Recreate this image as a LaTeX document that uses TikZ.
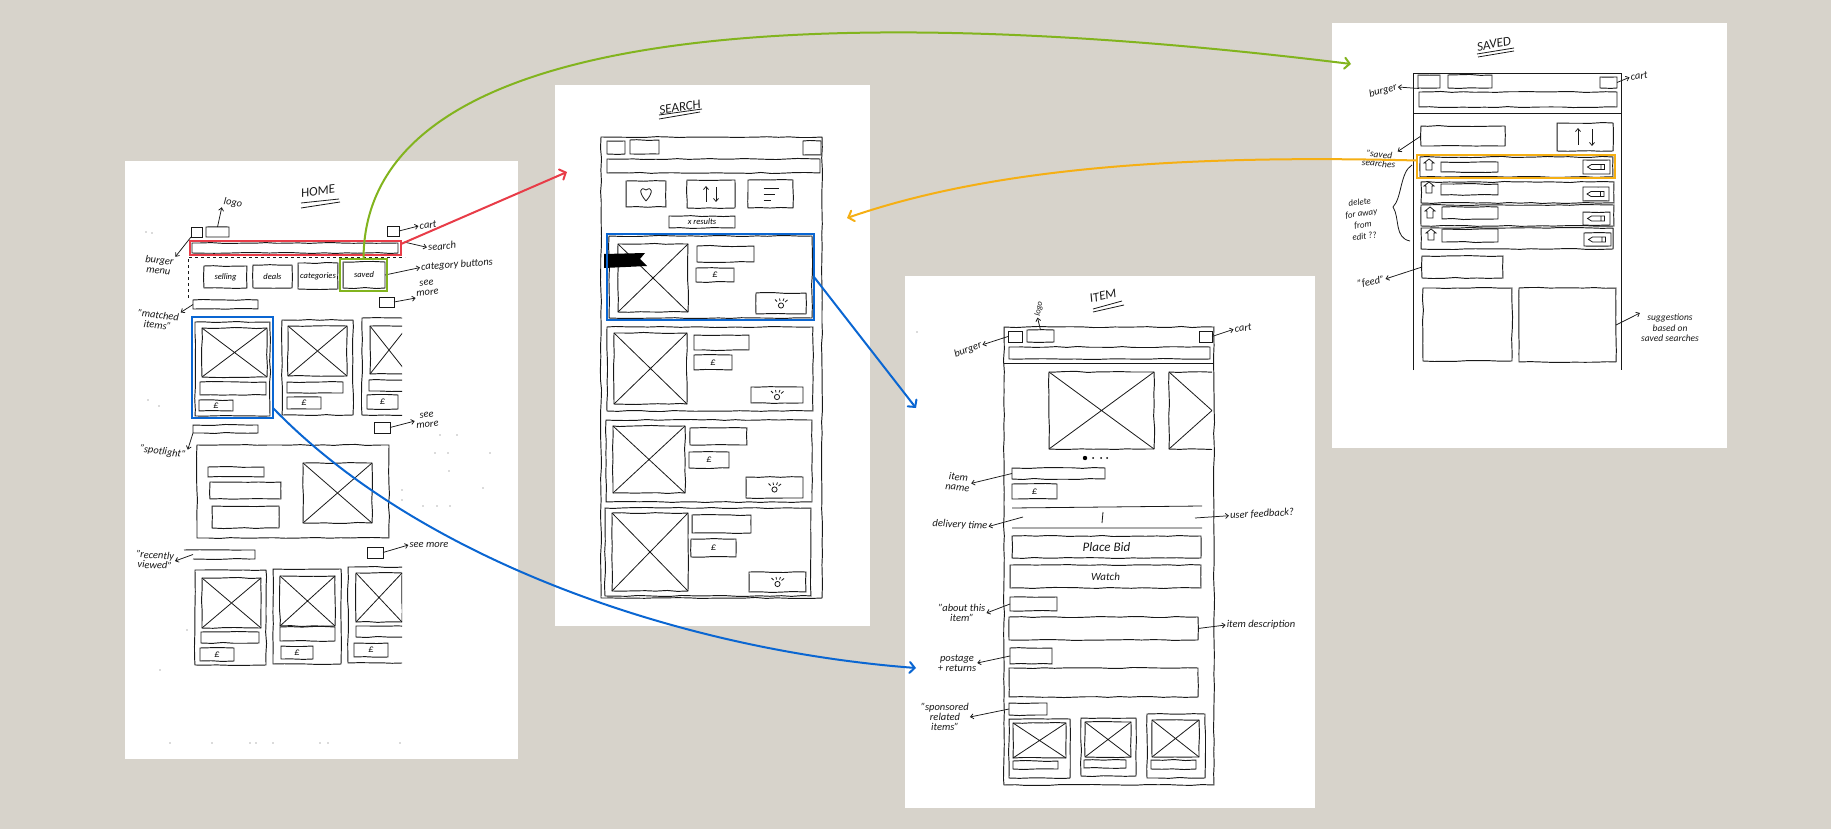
\documentclass[tikz,border=0pt]{standalone}
\usepackage{fontspec}
\setmainfont{Carlito}
\usetikzlibrary{arrows.meta,decorations.pathmorphing}
\definecolor{colorpaper}{RGB}{215,211,203}
\definecolor{colorred}{RGB}{232,60,72}
\definecolor{colorgreen}{RGB}{130,180,30}
\definecolor{colorblue}{RGB}{10,102,210}
\definecolor{colororange}{RGB}{245,175,20}
\tikzset{
	wire/.style={rectangle, draw=black!90, line width=0.95pt, inner sep=0pt, outer sep=0pt, decorate, decoration={random steps, segment length=11pt, amplitude=0.55pt}},
	wirethin/.style={draw=black!90, line width=0.8pt},
	hand/.style={font=\itshape\fontsize{10.5}{10}\selectfont, inner sep=1pt, align=center, text=black!90},
	handbig/.style={font=\itshape\fontsize{13}{13}\selectfont, inner sep=0pt, text=black!90},
	boxsmall/.style={font=\itshape\fontsize{8.5}{9}\selectfont},
	notearrow/.style={draw=black!90, line width=0.75pt, -{Straight Barb[length=3pt,width=5pt]}},
	hilite/.style={rectangle, line width=2pt, inner sep=0pt, outer sep=0pt},
	flow/.style={line width=2pt, -{Straight Barb[length=5pt,width=11pt,line cap=round]}}
}
% boxes are given by their corners in picture pixels
\newcommand{\wbox}[7][]{\node[wire, minimum width={#5-#3}, minimum height={#6-#4}, #1] at ({(#3+#5)/2}, {(#4+#6)/2}) (#2) {#7};}
\newcommand{\wimg}[6][]{\wbox[#1]{#2}{#3}{#4}{#5}{#6}{}
	\draw[wirethin] (#2.north west) -- (#2.south east) (#2.north east) -- (#2.south west);}
\newcommand{\hlbox}[6]{\node[hilite, draw=#2, minimum width={#5-#3}, minimum height={#6-#4}] at ({(#3+#5)/2}, {(#4+#6)/2}) (#1) {};}
\newcommand{\eyeicon}[1]{\draw[wirethin, shift={(#1.center)}] (0,2) circle[radius=2.6] (-4,-2) -- (-6,-4) (-1,-2.5) -- (-1.5,-5) (2,-2.5) -- (3,-5) (4,-1.5) -- (6.5,-3.5);}
\newcommand{\binicon}[2]{\draw[wirethin, shift={(#1,#2)}] (0,-6) -- (5,-2) -- (3,-2) -- (3,5) -- (-3,5) -- (-3,-2) -- (-5,-2) -- cycle;}
\newcommand{\penicon}[1]{\draw[wirethin, shift={(#1.center)}] (-9,0) -- (-5,-2.5) -- (8,-2.5) -- (8,2.5) -- (-5,2.5) -- cycle (4.5,-2.5) -- (4.5,2.5);}
\begin{document}
\begin{tikzpicture}[x=1pt, y=-1pt]
	\pgfmathsetseed{11}
	\useasboundingbox (0,0) rectangle (1831,829);
	\fill[colorpaper] (0,0) rectangle (1831,829);
	\fill[white] (125,161) rectangle (518,759);
	\fill[white] (555,85) rectangle (870,626);
	\fill[white] (905,276) rectangle (1315,808);
	\fill[white] (1332,23) rectangle (1727,448);
	
	% home sheet
	\node[handbig, rotate=7] at (318,191) (hometitle) {HOME};
	\draw[wirethin] (301,203) -- (339,199) (301,208) -- (340,202);
	\draw[wirethin, dashed] (188,298) -- (188,257) -- (405,257);
	\wbox{homeburger}{191}{227}{202}{237}{}
	\wbox{homelogo}{206}{227}{229}{237}{}
	\wbox{homecart}{387}{226}{399}{236}{}
	\wbox{homesearch}{192}{243}{398}{253}{}
	\wbox[boxsmall]{homeselling}{204}{266}{247}{288}{selling}
	\wbox[boxsmall]{homedeals}{253}{265}{292}{288}{deals}
	\wbox[boxsmall]{homecategories}{298}{263}{338}{289}{categories}
	\wbox[boxsmall]{homesaved}{343}{262}{385}{288}{saved}
	\wbox{homemore}{379}{297}{394}{307}{}
	\wbox{hometitleone}{193}{300}{258}{309}{}
	
	\wbox{cardone}{195}{322}{270}{416}{}
	\wimg{cardoneimg}{202}{328}{267}{377}
	\wbox{cardonename}{200}{382}{266}{395}{}
	\wbox[hand]{cardoneprice}{199}{400}{233}{411}{£}
	\wbox{cardtwo}{282}{320}{353}{415}{}
	\wimg{cardtwoimg}{288}{326}{347}{376}
	\wbox{cardtwoname}{287}{382}{343}{393}{}
	\wbox[hand]{cardtwoprice}{287}{397}{321}{409}{£}
	\begin{scope}
		\clip (355,300) rectangle (402,430);
		\wbox{cardthree}{362}{318}{430}{415}{}
		\wimg{cardthreeimg}{370}{326}{408}{374}
		\wbox{cardthreename}{369}{380}{430}{391}{}
		\wbox[hand]{cardthreeprice}{367}{395}{398}{409}{£}
	\end{scope}
	
	\wbox{hometitletwo}{193}{425}{258}{433}{}
	\wbox{homemoretwo}{374}{422}{390}{433}{}
	\wbox{spotlight}{197}{445}{389}{538}{}
	\wbox{spotone}{208}{467}{264}{477}{}
	\wbox{spottwo}{210}{482}{281}{499}{}
	\wbox{spotthree}{212}{506}{279}{528}{}
	\wimg{spotimg}{303}{463}{372}{523}
	
	\wbox{hometitlethree}{193}{550}{255}{559}{}
	\wbox{homemorethree}{367}{547}{383}{558}{}
	\wbox{cardfour}{195}{570}{266}{665}{}
	\wimg{cardfourimg}{202}{578}{261}{628}
	\wbox{cardfourname}{201}{632}{259}{643}{}
	\wbox[hand]{cardfourprice}{200}{648}{234}{661}{£}
	\wbox{cardfive}{273}{569}{341}{664}{}
	\wimg{cardfiveimg}{280}{576}{335}{626}
	\wbox{cardfivename}{280}{627}{335}{641}{}
	\wbox[hand]{cardfiveprice}{281}{646}{313}{659}{£}
	\begin{scope}
		\clip (340,555) rectangle (402,680);
		\wbox{cardsix}{348}{567}{430}{663}{}
		\wimg{cardsiximg}{356}{573}{402}{622}
		\wbox{cardsixname}{356}{626}{430}{637}{}
		\wbox[hand]{cardsixprice}{354}{643}{388}{657}{£}
	\end{scope}
	
	\node[hand, rotate=-8] at (233,203) (homelogolabel) {logo};
	\node[hand, rotate=6] at (428,225) (homecartlabel) {cart};
	\node[hand, rotate=-6] at (159,265) (homeburgerlabel) {burger\\menu};
	\node[hand, rotate=5] at (442,246) (homesearchlabel) {search};
	\node[hand, rotate=4] at (457,265) (homecatlabel) {category buttons};
	\node[hand, rotate=6] at (427,288) (homemorelabel) {see\\more};
	\node[hand, rotate=-6] at (158,320) (homematchedlabel) {"matched\\items"};
	\node[hand, rotate=5] at (427,420) (homemoretwolabel) {see\\more};
	\node[hand, rotate=-8] at (163,452) (homespotlabel) {"spotlight"};
	\node[hand, rotate=-3] at (155,560) (homerecentlabel) {"recently\\viewed"};
	\node[hand] at (429,545) (homemorethreelabel) {see more};
	
	\draw[notearrow] (homelogo.north) -- (homelogolabel.south west);
	\draw[notearrow] (homecart.east) -- (homecartlabel.west);
	\draw[notearrow] (homeburger.south west) -- (homeburgerlabel.north east);
	\draw[notearrow] (homesearch.east) ++(6,-6) -- (homesearchlabel.west);
	\draw[notearrow] (homesaved.east) -- (homecatlabel.west);
	\draw[notearrow] (homemore.east) -- (homemorelabel.south west);
	\draw[notearrow] (hometitleone.west) -- (homematchedlabel.north east);
	\draw[notearrow] (homemoretwo.east) -- (homemoretwolabel.west);
	\draw[notearrow] (hometitletwo.south west) -- (homespotlabel.north east);
	\draw[notearrow] (hometitlethree.west) -- (homerecentlabel.east);
	\draw[notearrow] (homemorethree.east) -- (homemorethreelabel.west);
	
	\foreach \px/\py in {170/743,212/743,250/743,256/743,273/743,320/743,328/743,400/743,440/435,457/435,435/453,448/453,490/453,449/471,402/490,402/500,423/506,437/506,450/506,483/488,148/400,159/406,187/630,160/670,146/232,152/233}
		\fill[black!60] (\px,\py) circle (0.6);
	
	% search sheet
	\node[handbig, rotate=9] at (680,107) (searchtitle) {SEARCH};
	\draw[wirethin] (659,115) -- (702,109) (659,119) -- (700,112);
	\wbox{searchframe}{601}{137}{822}{598}{}
	\wbox{searchburger}{607}{141}{625}{154}{}
	\wbox{searchlogo}{630}{140}{659}{154}{}
	\wbox{searchcart}{803}{141}{821}{155}{}
	\wbox{searchbar}{607}{159}{820}{173}{}
	\wbox{searchheart}{626}{181}{666}{207}{}
	\wbox{searchsort}{687}{180}{735}{208}{}
	\wbox{searchfilter}{748}{180}{793}{208}{}
	\draw[wirethin, shift={(searchheart.center)}] (0,7) .. controls (-8,-2) and (-6,-8) .. (0,-4) .. controls (6,-8) and (8,-2) .. (0,7);
	\draw[notearrow, shift={(searchsort.center)}] (-5,8) -- (-5,-8);
	\draw[notearrow, shift={(searchsort.center)}] (5,-7) -- (5,8);
	\draw[wirethin, shift={(searchfilter.center)}] (-7,-6) -- (8,-6) (-7,0) -- (4,0) (-7,6) -- (0,6);
	\wbox[boxsmall]{searchcount}{669}{216}{735}{228}{x results}
	
	\wbox{resultone}{609}{236}{812}{318}{}
	\wimg{resultoneimg}{618}{244}{688}{312}
	\wbox{resultonename}{697}{246}{754}{262}{}
	\wbox[hand]{resultoneprice}{696}{268}{734}{282}{£}
	\wbox{resultonewatch}{756}{293}{806}{314}{}
	\eyeicon{resultonewatch}
	\fill[black] (604,254) -- (645,253) -- (640,259) -- (647,266) -- (604,268) -- cycle;
	\wbox{resulttwo}{607}{327}{813}{411}{}
	\wimg{resulttwoimg}{614}{333}{687}{404}
	\wbox{resulttwoname}{694}{335}{749}{350}{}
	\wbox[hand]{resulttwoprice}{694}{355}{732}{370}{£}
	\wbox{resulttwowatch}{751}{387}{803}{403}{}
	\eyeicon{resulttwowatch}
	\wbox{resultthree}{606}{420}{812}{502}{}
	\wimg{resultthreeimg}{613}{426}{685}{493}
	\wbox{resultthreename}{690}{428}{747}{445}{}
	\wbox[hand]{resultthreeprice}{689}{452}{729}{468}{£}
	\wbox{resultthreewatch}{746}{477}{803}{498}{}
	\eyeicon{resultthreewatch}
	\wbox{resultfour}{605}{508}{811}{596}{}
	\wimg{resultfourimg}{612}{513}{688}{591}
	\wbox{resultfourname}{692}{515}{751}{533}{}
	\wbox[hand]{resultfourprice}{691}{539}{736}{557}{£}
	\wbox{resultfourwatch}{749}{572}{806}{592}{}
	\eyeicon{resultfourwatch}
	
	% item sheet
	\fill[black!60] (917,332) circle (0.6);
	\node[handbig, rotate=12] at (1103,296) (itemtitle) {ITEM};
	\draw[wirethin] (1093,309) -- (1122,301) (1093,312) -- (1124,305);
	\wbox{itemframe}{1004}{327}{1214}{785}{}
	\wbox{itemburger}{1008}{331}{1022}{342}{}
	\wbox{itemlogo}{1027}{330}{1054}{342}{}
	\wbox{itemcart}{1199}{331}{1212}{342}{}
	\wbox{itembar}{1009}{347}{1210}{359}{}
	\draw[wirethin] (1004,363) -- (1214,363);
	\wimg{itemimg}{1049}{372}{1154}{449}
	\begin{scope}
		\clip (1160,360) rectangle (1212,460);
		\wimg{itemimgnext}{1169}{372}{1255}{449}
	\end{scope}
	\fill (1085,458) circle (2.2);
	\fill (1093,458) circle (1) (1101,458) circle (1) (1107,458) circle (1);
	\wbox{itemname}{1012}{468}{1105}{479}{}
	\wbox[hand]{itemprice}{1012}{484}{1057}{499}{£}
	\draw[wirethin] (1012,508) -- (1202,506) (1012,528) -- (1202,528) (1103,512) -- (1102,523);
	\coordinate (itemdeliv) at (1023,517);
	\coordinate (itemuser) at (1195,518);
	\wbox[hand, font=\itshape\fontsize{13}{13}\selectfont]{itembid}{1012}{536}{1201}{558}{Place Bid}
	\wbox[hand, font=\itshape\fontsize{11}{11}\selectfont]{itemwatch}{1010}{565}{1201}{588}{Watch}
	\wbox{itemabout}{1010}{597}{1057}{611}{}
	\wbox{itemdesc}{1009}{617}{1198}{640}{}
	\wbox{itempost}{1010}{648}{1052}{664}{}
	\wbox{itempostbody}{1009}{668}{1198}{697}{}
	\wbox{itemrelated}{1009}{703}{1047}{715}{}
	\wbox{itemcardone}{1009}{719}{1070}{778}{}
	\wimg{itemcardoneimg}{1013}{723}{1066}{758}
	\wbox{itemcardonename}{1013}{761}{1058}{769}{}
	\wbox{itemcardtwo}{1081}{718}{1136}{776}{}
	\wimg{itemcardtwoimg}{1085}{722}{1131}{757}
	\wbox{itemcardtwoname}{1084}{760}{1126}{768}{}
	\wbox{itemcardthree}{1147}{714}{1205}{778}{}
	\wimg{itemcardthreeimg}{1152}{720}{1199}{757}
	\wbox{itemcardthreename}{1151}{760}{1196}{769}{}
	
	\node[hand, rotate=80] at (1039,309) (itemlogolabel) {\fontsize{8.5}{8}\selectfont logo};
	\node[hand, rotate=20] at (968,350) (itemburgerlabel) {burger};
	\node[hand, rotate=8] at (1243,328) (itemcartlabel) {cart};
	\node[hand, rotate=-6] at (958,482) (itemnamelabel) {item\\name};
	\node[hand, rotate=-3] at (960,525) (itemdelivlabel) {delivery time};
	\node[hand, rotate=3] at (1262,514) (itemuserlabel) {user feedback?};
	\node[hand] at (962,613) (itemaboutlabel) {"about this\\item"};
	\node[hand] at (957,663) (itempostlabel) {postage\\+ returns};
	\node[hand] at (945,717) (itemrelatedlabel) {"sponsored\\related\\items"};
	\node[hand] at (1261,625) (itemdesclabel) {item description};
	
	\draw[notearrow] (itemlogo.north) -- (itemlogolabel.west);
	\draw[notearrow] (itemburger.west) -- (itemburgerlabel.east);
	\draw[notearrow] (itemcart.east) -- (itemcartlabel.west);
	\draw[notearrow] (itemname.west) -- (itemnamelabel.east);
	\draw[notearrow] (itemdeliv) -- (itemdelivlabel.east);
	\draw[notearrow] (itemuser) -- (itemuserlabel.west);
	\draw[notearrow] (itemabout.west) -- (itemaboutlabel.east);
	\draw[notearrow] (itempost.west) -- (itempostlabel.east);
	\draw[notearrow] (itemrelated.west) -- (itemrelatedlabel.east);
	\draw[notearrow] (itemdesc.east) -- (itemdesclabel.west);
	
	% saved sheet
	\node[handbig, rotate=10] at (1494,44) (savedtitle) {SAVED};
	\draw[wirethin] (1477,54) -- (1514,48) (1478,57) -- (1514,51);
	\draw[wirethin] (1413,370) -- (1413,73) -- (1621,73) -- (1621,370);
	\draw[wirethin] (1413,113) -- (1621,113);
	\wbox{savedburger}{1418}{75}{1440}{88}{}
	\wbox{savedlogo}{1448}{75}{1492}{88}{}
	\wbox{savedcart}{1600}{77}{1617}{88}{}
	\wbox{savedbar}{1419}{92}{1617}{107}{}
	\wbox{savedhead}{1421}{126}{1505}{146}{}
	\wbox{savedsort}{1557}{123}{1613}{151}{}
	\draw[notearrow, shift={(savedsort.center)}] (-7,8) -- (-7,-9);
	\draw[notearrow, shift={(savedsort.center)}] (7,-8) -- (7,9);
	
	\wbox{rowone}{1420}{157}{1613}{177}{}
	\binicon{1429}{165}
	\wbox{rowonename}{1441}{162}{1498}{172}{}
	\wbox{rowoneedit}{1583}{160}{1610}{174}{}
	\penicon{rowoneedit}
	\wbox{rowtwo}{1421}{182}{1614}{203}{}
	\binicon{1429}{188}
	\wbox{rowtwoname}{1441}{184}{1498}{195}{}
	\wbox{rowtwoedit}{1583}{187}{1609}{201}{}
	\penicon{rowtwoedit}
	\wbox{rowthree}{1421}{205}{1614}{226}{}
	\binicon{1430}{213}
	\wbox{rowthreename}{1442}{207}{1498}{219}{}
	\wbox{rowthreeedit}{1583}{212}{1610}{225}{}
	\penicon{rowthreeedit}
	\wbox{rowfour}{1421}{228}{1613}{249}{}
	\binicon{1431}{235}
	\wbox{rowfourname}{1442}{229}{1498}{242}{}
	\wbox{rowfouredit}{1584}{233}{1611}{246}{}
	\penicon{rowfouredit}
	
	\wbox{savedfeed}{1422}{256}{1503}{278}{}
	\wbox{savedleft}{1423}{288}{1512}{361}{}
	\wbox{savedright}{1519}{288}{1616}{362}{}
	\draw[wirethin] (1412,165) .. controls (1400,172) and (1402,198) .. (1393,207) .. controls (1400,218) and (1394,238) .. (1410,241);
	
	\node[hand, rotate=15] at (1383,91) (savedburgerlabel) {burger};
	\node[hand, rotate=8] at (1639,76) (savedcartlabel) {cart};
	\node[hand, rotate=-5, font=\itshape\fontsize{9.5}{9}\selectfont] at (1379,159) (savedheadlabel) {"saved\\searches};
	\node[hand, rotate=8, font=\itshape\fontsize{9}{11.5}\selectfont] at (1362,219) (savedbracelabel) {delete\\for away\\from\\edit ??};
	\node[hand, rotate=12] at (1371,282) (savedfeedlabel) {"feed"};
	\node[hand, font=\itshape\fontsize{9.5}{10.5}\selectfont] at (1670,328) (savedsuggestlabel) {suggestions\\based on\\saved searches};
	
	\draw[notearrow] (savedburger.west) ++(1,7) -- (savedburgerlabel.east);
	\draw[notearrow] (savedcart.east) -- (savedcartlabel.west);
	\draw[notearrow] (savedhead.west) -- (savedheadlabel.north east);
	\draw[notearrow] (savedfeed.west) -- (savedfeedlabel.east);
	\draw[notearrow] (savedright.east) -- (savedsuggestlabel.north west);
	
	% coloured links between sheets
	\hlbox{hlsearchbar}{colorred}{190}{241}{401}{255}
	\hlbox{hlsaved}{colorgreen}{340}{259}{387}{291}
	\hlbox{hlcard}{colorblue}{192}{317}{273}{418}
	\hlbox{hlresult}{colorblue}{607}{234}{814}{320}
	\hlbox{hlrow}{colororange}{1417}{155}{1615}{178}
	\coordinate (tosearch) at (567,172);
	\coordinate (tosearchleft) at (847,218);
	\coordinate (toitemtop) at (916,408);
	\coordinate (toitemlow) at (916,668);
	\coordinate (tosaved) at (1351,64);
	
	\draw[flow, colorred] ([yshift=-3pt]hlsearchbar.north east) -- (tosearch);
	\draw[flow, colorgreen] (hlsaved.north) .. controls (364,6) and (880,6) .. (tosaved);
	\draw[flow, colorblue] (hlresult.east) -- (toitemtop);
	\draw[flow, colorblue] ([yshift=10pt]hlcard.south east) .. controls (420,560) and (680,650) .. (toitemlow);
	\draw[flow, colororange] ([yshift=6pt]hlrow.west) .. controls (1200,155) and (1000,165) .. (tosearchleft);
	
\end{tikzpicture}
\end{document}
